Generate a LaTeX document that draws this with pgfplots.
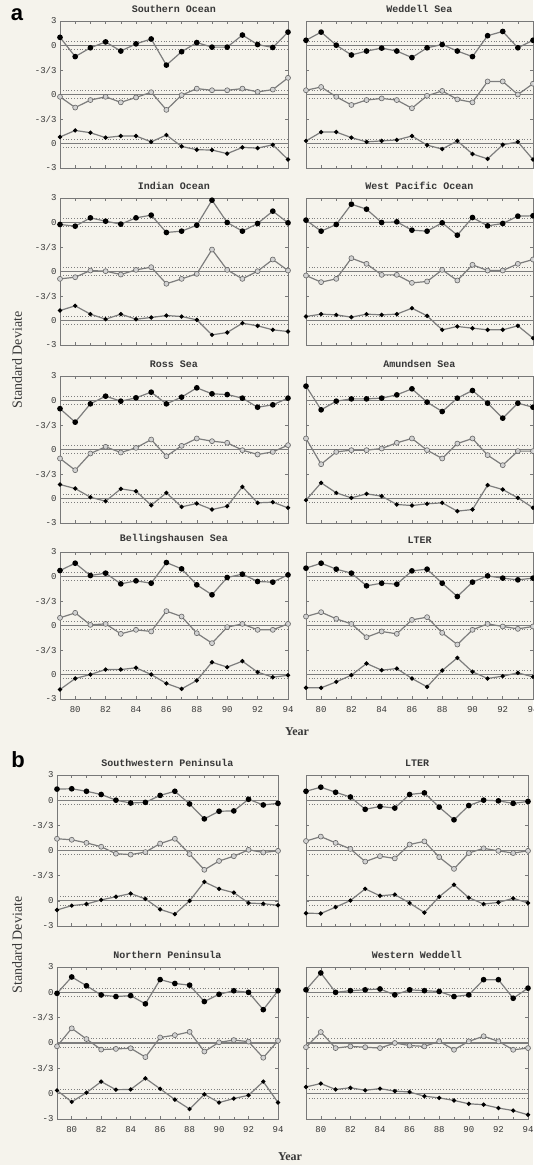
\documentclass[border=0pt]{standalone}
\usepackage{fontspec}
\setmainfont{Liberation Serif}
\setmonofont{Liberation Mono}
\newfontfamily\labfont{Liberation Sans}
\usepackage{pgfplots}
\usepackage{pgfplotstable}
\pgfplotsset{compat=1.18}

\definecolor{paper}{RGB}{245,243,236}
\definecolor{linecol}{RGB}{125,125,125}
\definecolor{framecol}{RGB}{120,120,120}
\definecolor{ink}{RGB}{55,55,55}

% yr, top (filled), middle (open), bottom (small dots)
\pgfplotstableread{
yr a b c
79 1.0 -0.28 0.8
80 -1.36 -1.6 1.6
81 -0.28 -0.68 1.32
82 0.44 -0.28 0.72
83 -0.68 -0.96 0.92
84 0.2 -0.36 0.92
85 0.8 0.28 0.2
86 -2.4 -1.88 1.04
87 -0.76 -0.08 -0.36
88 0.36 0.72 -0.76
89 -0.2 0.52 -0.8
90 -0.2 0.52 -1.24
91 1.28 0.72 -0.48
92 0.12 0.32 -0.56
93 -0.24 0.6 -0.16
94 1.64 2.04 -1.96
}\tSO
\pgfplotstableread{
yr a b c
79 0.64 0.52 0.32
80 1.64 0.92 1.4
81 0.04 -0.28 1.4
82 -1.16 -1.28 0.72
83 -0.68 -0.68 0.2
84 -0.32 -0.48 0.32
85 -0.68 -0.68 0.44
86 -1.48 -1.68 0.92
87 -0.28 -0.16 -0.2
88 0.12 0.44 -0.68
89 -0.68 -0.6 0.32
90 -1.36 -0.96 -1.28
91 1.2 1.6 -1.88
92 1.72 1.6 -0.16
93 -0.28 0 0.2
94 0.64 1.32 -1.96
}\tWS
\pgfplotstableread{
yr a b c
79 -0.24 -0.9 1.22
80 -0.45 -0.7 1.8
81 0.57 0.12 0.78
82 0.16 0.04 0.16
83 -0.2 -0.37 0.78
84 0.57 0.2 0.16
85 0.9 0.53 0.37
86 -1.22 -1.5 0.61
87 -1.06 -0.9 0.49
88 -0.33 -0.29 0.08
89 2.73 2.69 -1.76
90 0 0.2 -1.47
91 -1.06 -0.9 -0.33
92 -0.12 0.04 -0.65
93 1.39 1.47 -1.14
94 -0.04 0.12 -1.35
}\tIO
\pgfplotstableread{
yr a b c
79 0.29 -0.49 0.49
80 -1.06 -1.3 0.78
81 -0.24 -0.9 0.69
82 2.24 1.63 0.41
83 1.63 0.94 0.78
84 0 -0.41 0.69
85 0.08 -0.41 0.78
86 -0.94 -1.39 1.51
87 -1.06 -1.22 0.57
88 -0.04 0.2 -1.14
89 -1.55 -1.1 -0.73
90 0.61 0.82 -0.94
91 -0.41 0.12 -1.14
92 -0.12 0.12 -1.14
93 0.78 0.94 -0.65
94 0.82 1.47 -2.16
}\tWP
\pgfplotstableread{
yr a b c
79 -1.0 -1.1 1.71
80 -2.65 -2.53 1.22
81 -0.41 -0.49 0.16
82 0.53 0.33 -0.33
83 -0.08 -0.37 1.18
84 0.33 0.2 0.9
85 1.02 1.22 -0.82
86 -0.41 -0.82 0.69
87 0.41 0.45 -1.02
88 1.55 1.35 -0.61
89 0.82 1.02 -1.35
90 0.73 0.82 -0.94
91 0.29 -0.08 1.43
92 -0.82 -0.61 -0.53
93 -0.53 -0.29 -0.45
94 0.29 0.53 -1.14
}\tRS
\pgfplotstableread{
yr a b c
79 1.76 1.35 -0.2
80 -1.14 -1.8 1.92
81 -0.08 -0.29 0.69
82 0.2 -0.08 0.08
83 0.2 -0.08 0.57
84 0.29 0.12 0.29
85 0.69 0.82 -0.73
86 1.43 1.35 -0.86
87 -0.2 -0.08 -0.65
88 -1.35 -1.1 -0.53
89 0.29 0.73 -1.55
90 1.22 1.35 -1.35
91 -0.33 -0.69 1.63
92 -2.16 -1.92 1.1
93 -0.33 -0.2 0.08
94 -0.82 -0.2 -1.14
}\tAS
\pgfplotstableread{
yr a b c
79 0.73 0.94 -1.84
80 1.63 1.55 -0.49
81 0.12 0.08 0
82 0.41 0.2 0.61
83 -0.9 -1.02 0.61
84 -0.53 -0.53 0.82
85 -0.82 -0.73 0
86 1.71 1.76 -1.1
87 0.94 1.1 -1.76
88 -1.02 -0.94 -0.73
89 -2.24 -2.16 1.51
90 -0.12 -0.2 0.9
91 0.29 0.2 1.63
92 -0.61 -0.53 0.29
93 -0.69 -0.53 -0.33
94 0.2 0.2 -0.1
}\tBS
\pgfplotstableread{
yr a b c
79 1.02 1.1 -1.63
80 1.63 1.63 -1.63
81 0.9 0.82 -0.9
82 0.41 0.2 -0.08
83 -1.14 -1.43 1.35
84 -0.82 -0.73 0.53
85 -0.94 -1.02 0.73
86 0.69 0.69 -0.49
87 0.9 1.02 -1.51
88 -0.82 -0.9 0.49
89 -2.45 -2.33 2.04
90 -0.69 -0.53 0.33
91 0.08 0.2 -0.49
92 -0.2 -0.12 -0.2
93 -0.41 -0.41 0.2
94 -0.2 -0.12 -0.29
}\tLA
\pgfplotstableread{
yr a b c
79 1.32 1.4 -1.09
80 1.36 1.28 -0.57
81 1.06 0.91 -0.38
82 0.68 0.45 0.11
83 0 -0.38 0.49
84 -0.34 -0.49 0.87
85 -0.26 -0.19 0.23
86 0.57 0.83 -1.02
87 1.06 1.4 -1.58
88 -0.45 -0.42 0
89 -2.23 -2.3 2.26
90 -1.32 -1.25 1.43
91 -1.28 -0.68 0.98
92 0.11 0.08 -0.26
93 -0.57 -0.23 -0.34
94 -0.38 -0.04 -0.53
}\tSW
\pgfplotstableread{
yr a b c
79 1.06 1.13 -1.47
80 1.55 1.66 -1.51
81 0.94 0.91 -0.75
82 0.38 0.19 0.04
83 -1.09 -1.32 1.43
84 -0.75 -0.68 0.6
85 -0.94 -0.94 0.75
86 0.68 0.72 -0.26
87 0.87 1.09 -1.4
88 -0.83 -0.79 0.49
89 -2.34 -2.19 1.92
90 -0.64 -0.3 0.38
91 0 0.26 -0.38
92 -0.08 -0.04 -0.19
93 -0.38 -0.3 0.3
94 -0.15 -0.04 -0.26
}\tLB
\pgfplotstableread{
yr a b c
79 -0.12 -0.39 0.39
80 1.82 1.74 -0.97
81 0.78 0.47 0.12
82 -0.31 -0.78 1.43
83 -0.5 -0.7 0.47
84 -0.39 -0.62 0.5
85 -1.36 -1.67 1.82
86 1.51 0.66 0.58
87 1.05 0.93 -0.7
88 0.85 1.32 -1.82
89 -1.09 -1.01 -0.08
90 -0.23 0.08 -1.05
91 0.19 0.35 -0.58
92 0 0.16 -0.19
93 -2.05 -1.74 1.43
94 0.19 0.27 -1.05
}\tNP
\pgfplotstableread{
yr a b c
79 0.3 -0.5 0.8
80 2.3 1.3 1.2
81 0 -0.6 0.5
82 0.2 -0.4 0.7
83 0.3 -0.5 0.4
84 0.4 -0.6 0.6
85 -0.3 0 0.3
86 0.3 -0.3 0.2
87 0.2 -0.4 -0.3
88 0.1 0.2 -0.5
89 -0.5 -0.8 -0.8
90 -0.3 0.2 -1.2
91 1.5 0.8 -1.3
92 1.5 0.2 -1.7
93 -0.7 -0.8 -2.0
94 0.5 -0.6 -2.5
}\tWW

\pgfplotsset{
  panel/.style={
    scale only axis, clip=false,
    xmin=79, xmax=94, ymin=-3, ymax=15,
    axis line style={framecol, line width=0.9pt},
    xtick={80,82,...,94}, minor xtick={79,...,94},
    xticklabels={80,82,84,86,88,90,92,94},
    ytick={-3,0,3,6,9,12,15},
    yticklabels={-3,0,-3/3,0,-3/3,0,3},
    tick align=inside, xtick pos=both, ytick pos=both,
    major tick length=3pt, minor tick length=2.5pt,
    tick style={framecol, line width=0.6pt},
    tick label style={font=\ttfamily\fontsize{9}{9}\selectfont, text=ink},
    xticklabel style={yshift=-4pt},
    title style={font=\ttfamily\bfseries\fontsize{10}{10}\selectfont, text=ink,
                 at={(0.5,1)}, anchor=south, yshift=-1pt},
  },
  nox/.style={xticklabels={}},
  noy/.style={yticklabels={}},
  zeroline/.style={linecol, line width=1.3pt, forget plot},
  dotline/.style={linecol, dotted, line width=0.8pt, forget plot},
  sA/.style={linecol, line width=1.2pt, mark=*, mark size=2.2pt,
             mark options={solid, fill=black, draw=black}},
  sB/.style={linecol, line width=1.2pt, mark=*, mark size=2.5pt,
             mark options={solid, fill=gray!35, draw=gray!80!black, line width=0.6pt}},
  sC/.style={linecol, line width=1.2pt, mark=*, mark size=1.5pt,
             mark options={solid, fill=black, draw=black}},
}

\newcommand{\refl}{%
  \addplot[dotline] coordinates {(79,12.5) (94,12.5)};
  \addplot[dotline] coordinates {(79,11.5) (94,11.5)};
  \addplot[zeroline] coordinates {(79,12) (94,12)};
  \addplot[dotline] coordinates {(79,6.5) (94,6.5)};
  \addplot[dotline] coordinates {(79,5.5) (94,5.5)};
  \addplot[zeroline] coordinates {(79,6) (94,6)};
  \addplot[dotline] coordinates {(79,0.5) (94,0.5)};
  \addplot[dotline] coordinates {(79,-0.5) (94,-0.5)};
  \addplot[zeroline] coordinates {(79,0) (94,0)};
}
\newcommand{\series}[1]{%
  \addplot[sA] table[x=yr, y expr=\thisrow{a}+12] {#1};
  \addplot[sB] table[x=yr, y expr=\thisrow{b}+6] {#1};
  \addplot[sC] table[x=yr, y expr=\thisrow{c}] {#1};
}

\begin{document}
\begin{tikzpicture}[x=1pt, y=1pt]
\fill[paper] (0,0) rectangle (533,-1165);
\path[use as bounding box] (0,0) rectangle (533,-1165);

\node[font=\labfont\bfseries\fontsize{22}{22}\selectfont, text=black] at (17,-15) {a};
\node[font=\labfont\bfseries\fontsize{22}{22}\selectfont, text=black] at (18,-760) {b};

% panel a
\begin{axis}[panel, nox, at={(60pt,-21pt)}, anchor=north west, width=228pt, height=147pt, title={Southern Ocean}]
\refl \series{\tSO}
\end{axis}
\begin{axis}[panel, nox, noy, at={(306pt,-21pt)}, anchor=north west, width=227pt, height=147pt, title={Weddell Sea}]
\refl \series{\tWS}
\end{axis}
\begin{axis}[panel, nox, at={(60pt,-198pt)}, anchor=north west, width=228pt, height=147pt, title={Indian Ocean}]
\refl \series{\tIO}
\end{axis}
\begin{axis}[panel, nox, noy, at={(306pt,-198pt)}, anchor=north west, width=227pt, height=147pt, title={West Pacific Ocean}]
\refl \series{\tWP}
\end{axis}
\begin{axis}[panel, nox, at={(60pt,-376pt)}, anchor=north west, width=228pt, height=147pt, title={Ross Sea}]
\refl \series{\tRS}
\end{axis}
\begin{axis}[panel, nox, noy, at={(306pt,-376pt)}, anchor=north west, width=227pt, height=147pt, title={Amundsen Sea}]
\refl \series{\tAS}
\end{axis}
\begin{axis}[panel, at={(60pt,-552pt)}, anchor=north west, width=228pt, height=147pt, title={Bellingshausen Sea}]
\refl \series{\tBS}
\end{axis}
\begin{axis}[panel, noy, at={(306pt,-552pt)}, anchor=north west, width=227pt, height=147pt, title={LTER}]
\refl \series{\tLA}
\end{axis}

% panel b
\begin{axis}[panel, nox, at={(57pt,-775pt)}, anchor=north west, width=221pt, height=151pt, title={Southwestern Peninsula}]
\refl \series{\tSW}
\end{axis}
\begin{axis}[panel, nox, noy, at={(306pt,-775pt)}, anchor=north west, width=222pt, height=151pt, title={LTER}]
\refl \series{\tLB}
\end{axis}
\begin{axis}[panel, at={(57pt,-967pt)}, anchor=north west, width=221pt, height=152pt, title={Northern Peninsula}]
\refl \series{\tNP}
\end{axis}
\begin{axis}[panel, noy, at={(306pt,-967pt)}, anchor=north west, width=222pt, height=152pt, title={Western Weddell}]
\refl \series{\tWW}
\end{axis}

\node[font=\bfseries\fontsize{12}{12}\selectfont, text=ink] at (297,-732) {Year};
\node[font=\bfseries\fontsize{12}{12}\selectfont, text=ink] at (290,-1157) {Year};
\node[font=\fontsize{14}{14}\selectfont, text=ink, rotate=90] at (17,-360) {Standard Deviate};
\node[font=\fontsize{14}{14}\selectfont, text=ink, rotate=90] at (17,-945) {Standard Deviate};
\end{tikzpicture}
\end{document}
